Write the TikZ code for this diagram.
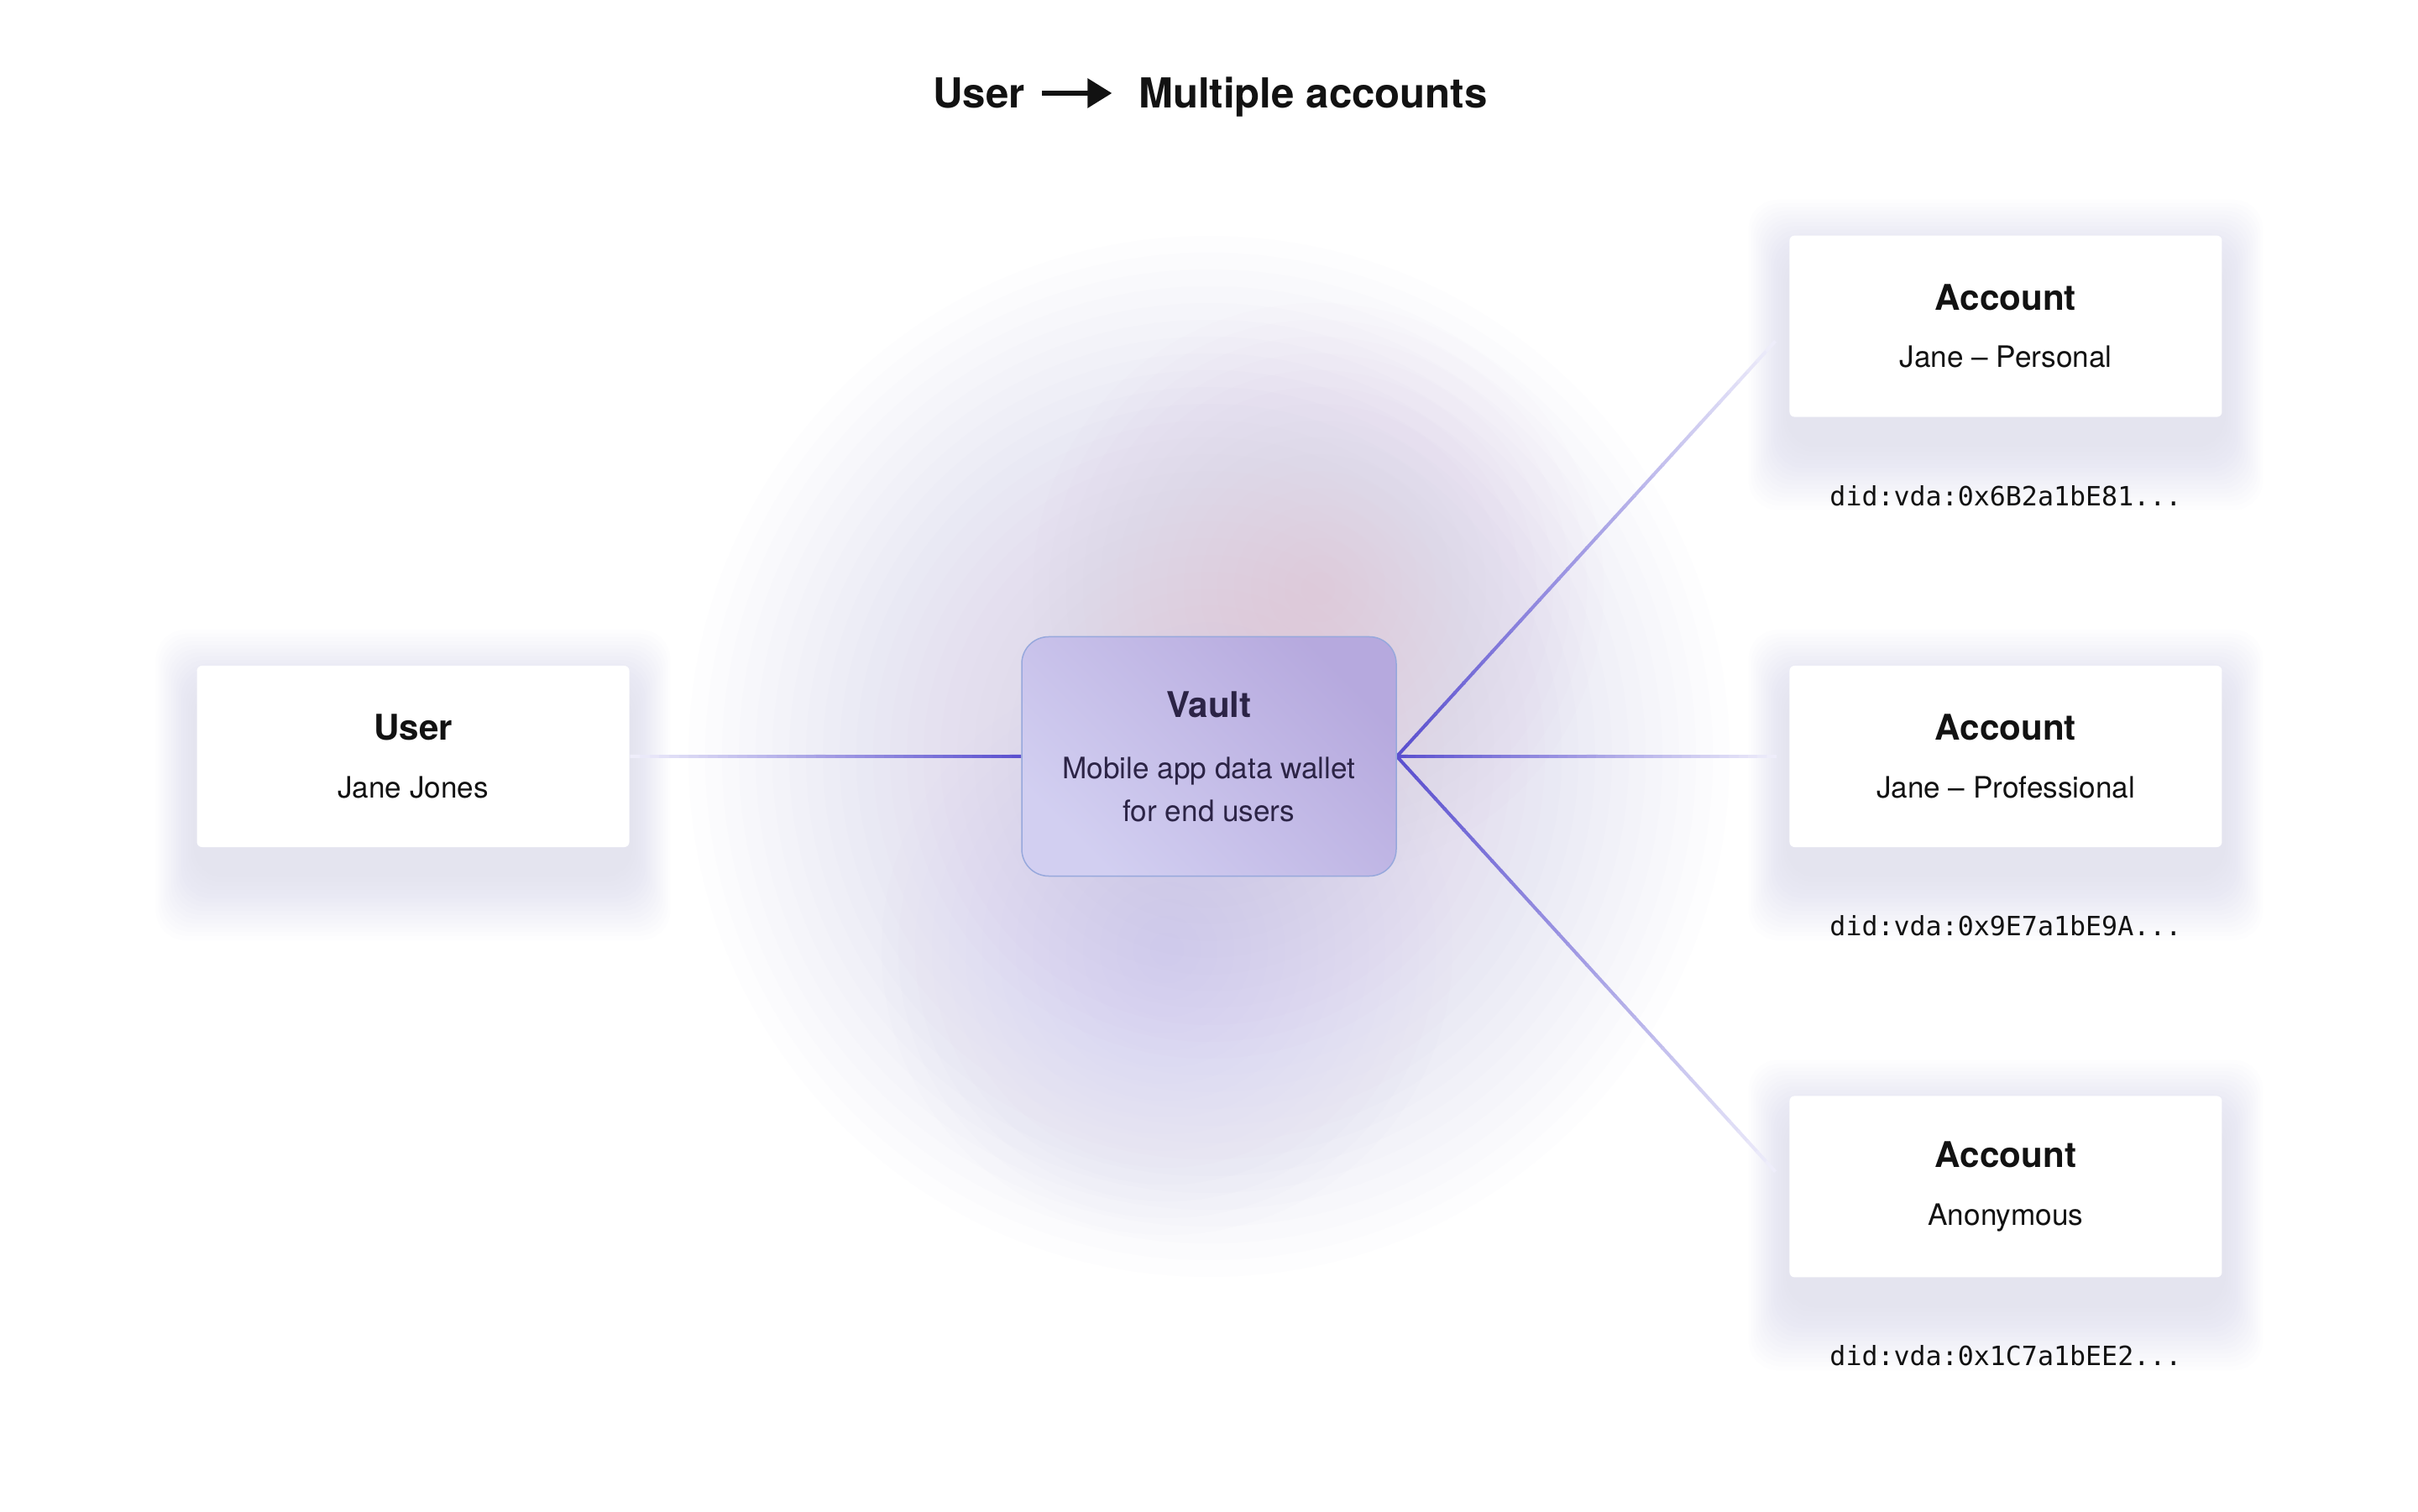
\documentclass[tikz,border=0pt]{standalone}
\usepackage{fontspec}
\setmainfont{TeX Gyre Heros}
\setmonofont{DejaVu Sans Mono}
\usepackage{tikz}
\usetikzlibrary{positioning, arrows.meta, calc}
\pgfdeclarelayer{background}
\pgfsetlayers{background,main}

\definecolor{inkblack}{HTML}{121212}
\definecolor{linecol}{HTML}{5B50CF}
\definecolor{vaultdark}{HTML}{B6A9DE}
\definecolor{vaultlight}{HTML}{D2CFF1}
\definecolor{vaultborder}{HTML}{97A8DC}
\definecolor{vaultink}{HTML}{2C2446}
\definecolor{glowmain}{HTML}{C0B6E8}
\definecolor{glowpink}{HTML}{DDB6DA}
\definecolor{glowblue}{HTML}{C0BBF2}
\definecolor{shadowcol}{HTML}{C5C5EE}

\begin{document}
\begin{tikzpicture}[
    heading/.style={font=\bfseries\fontsize{14}{16}\selectfont, text=inkblack, inner sep=0pt, text height=10pt, text depth=0pt},
    titlearrow/.style={-{Triangle[length=0.29cm,width=0.34cm]}, line width=0.06cm, draw=inkblack, shorten <=0.2cm, shorten >=0.31cm},
    card/.style={fill=white, rounded corners=0.06cm, minimum width=5.15cm, minimum height=2.16cm, align=center, text=inkblack, font=\fontsize{10}{12}\selectfont},
    vaultbox/.style={draw=vaultborder, line width=0.015cm, rounded corners=0.32cm, minimum width=4.46cm, minimum height=2.85cm, top color=vaultdark, bottom color=vaultlight, shading angle=-45, align=center, text=vaultink, font=\fontsize{10}{14.5}\selectfont},
    didtag/.style={font=\ttfamily\fontsize{9}{11}\selectfont, text=inkblack, inner sep=0pt},
    link/.style={line width=0.04cm}
  ]
  \useasboundingbox (0,0) rectangle (28.8,18);

  % title
  \node[heading] (tuser) at (11.66,16.89) {User};
  \node[heading, right=1.34cm of tuser] (tmulti) {Multiple accounts};
  \draw[titlearrow] (tuser) -- (tmulti);

  % boxes
  \node[vaultbox] (vault) at (14.40,8.99) {{\fontsize{12}{14}\selectfont\bfseries Vault}\\[6.3pt]Mobile app data wallet\\for end users};
  \node[card, left=4.66cm of vault] (user) {{\fontsize{12}{14}\selectfont\bfseries User}\\[7.5pt]Jane Jones};
  \node[card, right=4.67cm of vault] (acc2) {{\fontsize{12}{14}\selectfont\bfseries Account}\\[7.5pt]Jane \textendash{} Professional};
  \node[card, above=2.95cm of acc2] (acc1) {{\fontsize{12}{14}\selectfont\bfseries Account}\\[7.5pt]Jane \textendash{} Personal};
  \node[card, below=2.95cm of acc2] (acc3) {{\fontsize{12}{14}\selectfont\bfseries Account}\\[7.5pt]Anonymous};

  \node[didtag, below=0.8cm of acc1] (did1) {did:vda:0x6B2a1bE81...};
  \node[didtag, below=0.8cm of acc2] (did2) {did:vda:0x9E7a1bE9A...};
  \node[didtag, below=0.8cm of acc3] (did3) {did:vda:0x1C7a1bEE2...};

  \begin{pgfonlayer}{background}
    \fill[white] (0,0) rectangle (28.8,18);
    % glow round the vault
    \foreach \r in {0.2,0.4,...,6.2}
      \fill[glowmain, opacity=0.023] (vault.center) circle (\r cm);
    \foreach \r in {0.2,0.4,...,3.4} {
      \fill[glowpink, opacity=0.025] ($(vault.center)+(1.3,2.0)$) circle (\r cm);
      \fill[glowblue, opacity=0.025] ($(vault.center)+(-0.5,-2.3)$) circle (\r cm);
    }

    % soft shadows
    \foreach \n in {user,acc1,acc2,acc3}
      \foreach \k in {1,...,16}
        \fill[shadowcol, opacity=0.026, rounded corners=0.35cm]
          ([shift={(-0.03*\k,-0.3-0.05*\k)}]\n.south west) rectangle ([shift={(0.03*\k,-0.3+0.045*\k)}]\n.north east);

    % links, fading away from the vault
    \coordinate (e1) at ($(acc1.west)!0.24cm!(vault.east)$);
    \coordinate (e2) at ($(acc2.west)!0.15cm!(vault.east)$);
    \coordinate (e3) at ($(acc3.west)!0.24cm!(vault.east)$);
    \foreach \a/\b in {vault.east/e1, vault.east/e2, vault.east/e3, vault.west/user.east}
      \foreach \i in {1,...,40} {
        \pgfmathsetmacro\segA{(\i-1)/40}
        \pgfmathsetmacro\segB{min(\i/40+0.004,1)}
        \pgfmathsetmacro\pct{100-(\i-1)*2.3}
        \draw[link, draw=linecol!\pct!white] ($(\a)!\segA!(\b)$) -- ($(\a)!\segB!(\b)$);
      }
  \end{pgfonlayer}
\end{tikzpicture}
\end{document}
